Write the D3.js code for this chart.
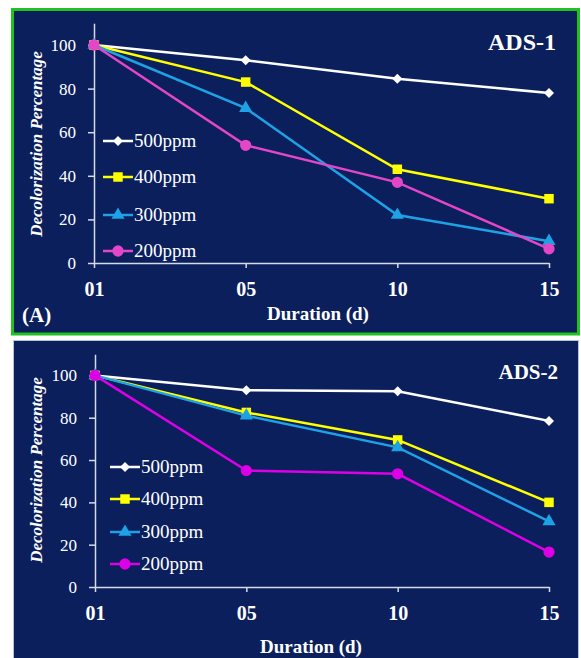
<!DOCTYPE html>
<html>
<head>
<meta charset="utf-8">
<script src="https://cdn.jsdelivr.net/npm/d3@7/dist/d3.min.js"></script>
<style>
  html, body { margin: 0; padding: 0; background: #ffffff; }
  svg { display: block; }
</style>
</head>
<body>
<div id="chart"></div>
<script>
// categories on the x axis (days)
const DAYS = ['01', '05', '10', '15'];
// y tick labels
const Y_TICKS = [0, 20, 40, 60, 80, 100];
// series names
const SERIES = ['500ppm', '400ppm', '300ppm', '200ppm'];

// ADS-1 decolorization values (%)
const ADS1_500 = [100, 93, 84.5, 78];
const ADS1_400 = [100, 83, 43, 29.5];
const ADS1_300 = [100, 71, 22, 10];
const ADS1_200 = [100, 54, 37, 6.5];

// ADS-2 decolorization values (%)
const ADS2_500 = [100, 93, 92.5, 78.5];
const ADS2_400 = [100, 82.5, 69.5, 40];
const ADS2_300 = [100, 81, 66, 31];
const ADS2_200 = [100, 55, 53.5, 16.5];

//page size
const W = 581, H = 658;
const BG = '#0b1f5d';
const FONT = '"Liberation Serif"';

//marker + line look per series
const STYLE = {
	'500ppm': {color: '#ffffff', shape: 'diamond'},
	'400ppm': {color: '#ffff00', shape: 'square'},
	'300ppm': {color: '#1ea2e6', shape: 'triangle'},
	'200ppm': {color: '#e446c8', shape: 'circle'}
};

const svg = d3.select('#chart').append('svg')
	.attr('width', W)
	.attr('height', H)
	.attr('viewBox', `0 0 ${W} ${H}`);

//panel frames
svg.append('rect')
	.attr('x', 12.5).attr('y', 9.5)
	.attr('width', 566).attr('height', 324.5)
	.attr('fill', BG)
	.attr('stroke', '#1fc21f')
	.attr('stroke-width', 3);

svg.append('rect')
	.attr('x', 13.5).attr('y', 340.5)
	.attr('width', 565).attr('height', 330)
	.attr('fill', BG)
	.attr('stroke', '#b9c3d8')
	.attr('stroke-width', 1);

function marker(shape){
	if(shape === 'diamond') return {d: d3.symbol(d3.symbolSquare, 50)(), rot: 45};
	if(shape === 'square') return {d: d3.symbol(d3.symbolSquare, 90)(), rot: 0};
	if(shape === 'triangle') return {d: d3.symbol(d3.symbolTriangle, 75)(), rot: 0};
	return {d: d3.symbol(d3.symbolCircle, 100)(), rot: 0};
}

function drawPanel(p){
	const x = d3.scalePoint().domain(DAYS).range([p.x0, p.x1]);
	const y = d3.scaleLinear().domain([0, 110]).range([p.y0, p.y0 - 110 * p.k]);

	const g = svg.append('g');

	//y axis
	const yAxis = d3.axisLeft(y)
		.tickValues(Y_TICKS)
		.tickSize(6)
		.tickPadding(12)
		.tickSizeOuter(0);
	g.append('g')
		.attr('transform', `translate(${p.x0},0)`)
		.call(yAxis)
		.call(a => {
			a.select('.domain').attr('stroke', '#d4dbe8').attr('stroke-width', 1.5);
			a.selectAll('.tick line').attr('stroke', '#d4dbe8').attr('stroke-width', 1.5);
			a.selectAll('.tick text')
				.attr('font-size', 17);
		});

	//x axis
	const xAxis = d3.axisBottom(x)
		.tickSize(5)
		.tickPadding(10)
		.tickSizeOuter(0);
	g.append('g')
		.attr('transform', `translate(0,${p.y0})`)
		.call(xAxis)
		.call(a => {
			a.select('.domain').attr('stroke', '#d4dbe8').attr('stroke-width', 1.5);
			a.selectAll('.tick line').attr('stroke', '#d4dbe8').attr('stroke-width', 1.5);
			a.selectAll('.tick text')
				.attr('font-size', 20)
				.attr('font-weight', 'bold')
				.attr('dy', '0.9em');
		});

	//lines + markers
	const line = d3.line()
		.x((d, i) => x(DAYS[i]))
		.y(d => y(d));

	p.series.forEach((vals, si) => {
		const name = SERIES[si];
		const st = STYLE[name];
		const col = (name === '200ppm' && p.pink) ? p.pink : st.color;
		g.append('path')
			.datum(vals)
			.attr('d', line)
			.attr('fill', 'none')
			.attr('stroke', col)
			.attr('stroke-width', 2.5);
		const m = marker(st.shape);
		g.selectAll(null)
			.data(vals)
			.enter()
			.append('path')
			.attr('d', m.d)
			.attr('fill', col)
			.attr('transform', (d, i) => `translate(${x(DAYS[i])},${y(d)}) rotate(${m.rot})`);
	});

	//legend
	SERIES.forEach((name, si) => {
		const st = STYLE[name];
		const col = (name === '200ppm' && p.pink) ? p.pink : st.color;
		const ly = p.legY[si];
		g.append('line')
			.attr('x1', p.legX).attr('x2', p.legX + 30)
			.attr('y1', ly).attr('y2', ly)
			.attr('stroke', col)
			.attr('stroke-width', 2.5);
		const m = marker(st.shape);
		g.append('path')
			.attr('d', m.d)
			.attr('fill', col)
			.attr('transform', `translate(${p.legX + 15},${ly}) rotate(${m.rot})`);
		g.append('text')
			.attr('x', p.legX + 31)
			.attr('y', ly)
			.attr('dy', '0.34em')
			.attr('font-size', 19)
			.text(name);
	});

	//titles
	g.append('text')
		.attr('x', p.titleX)
		.attr('y', p.titleY)
		.attr('text-anchor', 'end')
		.attr('font-size', p.titleSize)
		.attr('font-weight', 'bold')
		.text(p.title);

	g.append('text')
		.attr('x', p.xLabelX)
		.attr('y', p.xLabelY)
		.attr('text-anchor', 'middle')
		.attr('font-size', 19)
		.attr('font-weight', 'bold')
		.text('Duration (d)');

	g.append('text')
		.attr('transform', `translate(42,${p.yLabelY}) rotate(-90)`)
		.attr('text-anchor', 'middle')
		.attr('font-size', 17)
		.attr('font-weight', 'bold')
		.attr('font-style', 'italic')
		.text('Decolorization Percentage');

	if(p.tag){
		g.append('text')
			.attr('x', 22)
			.attr('y', 322)
			.attr('font-size', 21)
			.attr('font-weight', 'bold')
			.text(p.tag);
	}
}

drawPanel({
	x0: 94, x1: 549, y0: 263, k: 2.18,
	series: [ADS1_500, ADS1_400, ADS1_300, ADS1_200],
	legX: 103, legY: [141, 177, 215, 251],
	title: 'ADS-1', titleX: 556, titleY: 50, titleSize: 24,
	xLabelX: 318, xLabelY: 320, yLabelY: 144,
	tag: '(A)'
});

drawPanel({
	x0: 95, x1: 549, y0: 587, k: 2.116,
	series: [ADS2_500, ADS2_400, ADS2_300, ADS2_200],
	legX: 110, legY: [467, 499, 532, 564],
	title: 'ADS-2', titleX: 558, titleY: 379, titleSize: 21,
	xLabelX: 311, xLabelY: 653, yLabelY: 470,
	pink: '#dd00e6'
});

//serif everywhere, inline so it wins over the axis defaults
svg.selectAll('text')
	.style('font-family', FONT)
	.style('fill', '#ffffff');
</script>
</body>
</html>
